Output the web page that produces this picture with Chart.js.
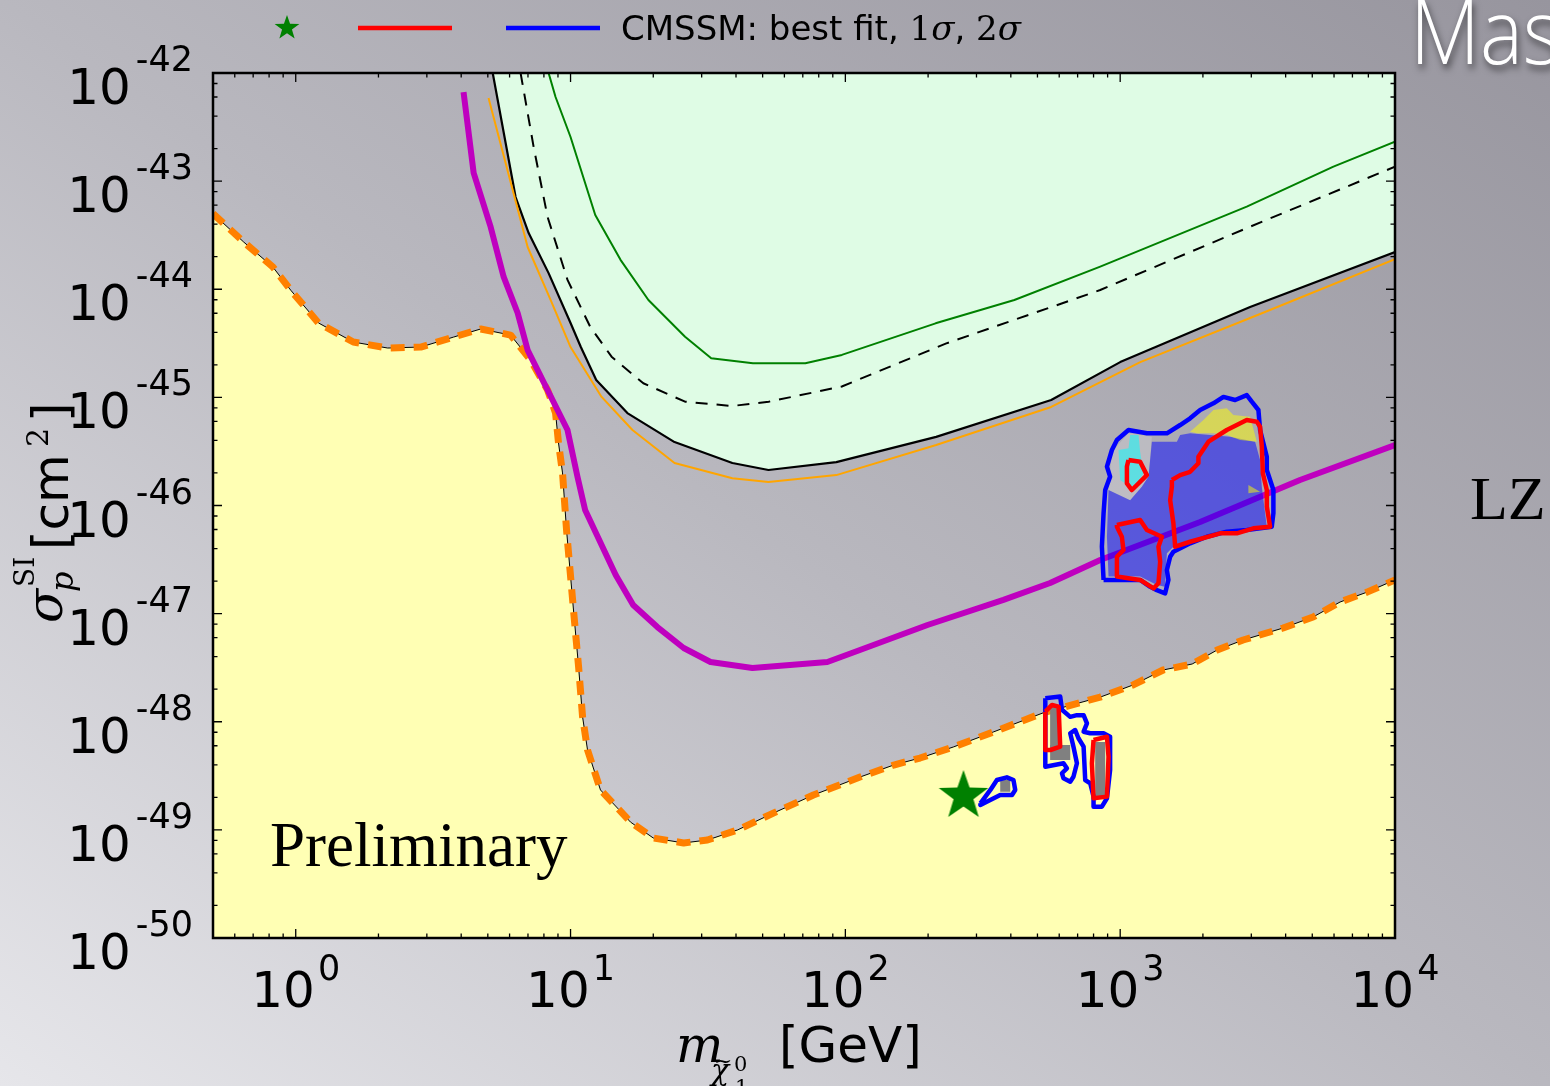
<!DOCTYPE html>
<html>
<head>
<meta charset="utf-8">
<script src="https://cdn.jsdelivr.net/npm/chart.js@4.4.0/dist/chart.umd.min.js"></script>
<style>
  html, body { margin: 0; padding: 0; }
  body {
    width: 1550px; height: 1086px; overflow: hidden;
    background: linear-gradient(to top right, #e6e6ea 0%, #b9b8bf 50%, #97959e 100%);
  }
  canvas { display: block; }
</style>
</head>
<body>
<canvas id="c" width="1550" height="1086"></canvas>
<script>
  // axes
  const xMin = 0.5, xMax = 1e4, yMin = 1e-50, yMax = 1e-42;
  const xTickExps = [0, 1, 2, 3, 4];
  const yTickExps = [-50, -49, -48, -47, -46, -45, -44, -43, -42];
  const xMinorSubs = [2, 3, 4, 5, 6, 7, 8, 9];
  const yMinorSubs = [2, 4, 6, 8];

  // neutrino floor (yellow region + orange dashed)
  const floorX = [0.5, 0.647, 0.825, 0.959, 1.21, 1.62, 2.16, 2.85, 3.75, 4.71, 6.05, 7.15, 8.25, 8.82, 9.04, 9.35, 9.67, 10.25, 10.7, 11.06, 11.53, 12.85, 14.82, 16.53, 20.0, 25.8, 31.5, 40.5, 54.7, 76.5, 113, 150, 187, 247, 345, 525, 846, 1115, 1433, 1828, 2254, 2801, 3917, 5036, 6310, 7910, 10000];
  const floorY = [5.0e-44, 2.73e-44, 1.61e-44, 9.8e-45, 4.88e-45, 3.25e-45, 2.86e-45, 2.92e-45, 3.61e-45, 4.29e-45, 3.77e-45, 2.22e-45, 1.17e-45, 7.16e-46, 3.79e-46, 2.0e-46, 5.93e-47, 1.08e-47, 3.2e-48, 1.11e-48, 5.48e-49, 2.34e-49, 1.59e-49, 1.18e-49, 8.41e-50, 7.57e-50, 8.06e-50, 9.98e-50, 1.43e-49, 2.10e-49, 3.08e-49, 3.98e-49, 4.62e-49, 5.84e-49, 8.03e-49, 1.21e-48, 1.69e-48, 2.19e-48, 3.01e-48, 3.42e-48, 4.61e-48, 5.70e-48, 7.36e-48, 9.31e-48, 1.28e-47, 1.58e-47, 2.05e-47];

  // excluded limit (black, green area above)
  const exclX = [5.21, 6.31, 7.04, 8.32, 10.0, 10.9, 12.4, 16.1, 23.9, 38.8, 52.5, 92.7, 214, 561, 1000, 2970, 10000];
  const exclY = [1e-42, 7.13e-44, 3.31e-44, 1.41e-44, 4.88e-45, 2.92e-45, 1.45e-45, 7.16e-46, 3.86e-46, 2.47e-46, 2.13e-46, 2.52e-46, 4.31e-46, 9.46e-46, 2.12e-45, 6.85e-45, 2.21e-44];

  // orange thin
  const orX = [5.03, 6.2, 6.98, 8.46, 10.0, 12.97, 16.8, 23.9, 38.8, 52.5, 92.7, 214, 561, 1183, 3228, 10000];
  const orY = [5.87e-43, 7.76e-44, 2.46e-44, 7.96e-45, 2.92e-45, 1.01e-45, 4.99e-46, 2.47e-46, 1.79e-46, 1.65e-46, 1.91e-46, 3.63e-46, 8.15e-46, 2.12e-45, 5.9e-45, 1.9e-44];

  // black dashed
  const dashX = [6.58, 7.34, 8.25, 9.75, 11.8, 14.1, 18.4, 26.1, 38.7, 52.6, 97.1, 233, 667, 846, 2970, 10000];
  const dashY = [1e-42, 2.07e-43, 4.66e-44, 1.22e-44, 4.48e-45, 2.38e-45, 1.35e-45, 9.12e-46, 8.32e-46, 9.12e-46, 1.26e-45, 3.16e-45, 7.96e-45, 9.84e-45, 3.79e-44, 1.36e-43];

  // green thin
  const grX = [8.32, 8.82, 10.0, 12.3, 15.2, 19.2, 26.1, 32.5, 46.1, 71.5, 97.1, 213, 412, 846, 2888, 5970, 10000];
  const grY = [1e-42, 6.0e-43, 2.56e-43, 4.86e-44, 1.87e-44, 7.96e-45, 3.64e-45, 2.3e-45, 2.07e-45, 2.07e-45, 2.47e-45, 4.84e-45, 7.96e-45, 1.62e-44, 5.81e-44, 1.36e-43, 2.32e-43];

  // LZ projection (magenta)
  const lzX = [4.08, 4.44, 5.12, 5.71, 6.42, 6.98, 9.75, 10.6, 11.3, 14.6, 16.9, 20.7, 25.8, 32.3, 45.9, 86.0, 113, 199, 376, 556, 846, 1954, 4512, 10000];
  const lzY = [6.67e-43, 1.19e-43, 3.77e-44, 1.30e-44, 6.03e-45, 2.74e-45, 4.99e-46, 1.84e-46, 9.08e-47, 2.28e-47, 1.2e-47, 7.51e-48, 4.81e-48, 3.57e-48, 3.14e-48, 3.57e-48, 4.61e-48, 7.85e-48, 1.34e-47, 1.92e-47, 3.13e-47, 7.03e-47, 1.72e-46, 3.63e-46];

  // CMSSM regions [mass, sigma]
  const big2s = [[870,2.05e-47],[858,4.16e-47],[870,8.47e-47],[882,1.39e-46],[919,1.85e-46],[895,2.29e-46],[933,3.26e-46],[973,4.04e-46],[1072,4.99e-46],[1251,4.65e-46],[1479,4.65e-46],[1653,5.55e-46],[1797,6.40e-46],[1954,7.64e-46],[2184,8.81e-46],[2375,1.01e-45],[2620,9.46e-46],[2888,1.05e-45],[3012,9.12e-46],[3184,7.64e-46],[3229,4.99e-46],[3416,2.82e-46],[3416,2.13e-46],[3610,1.39e-46],[3610,8.47e-47],[3561,6.37e-47],[2888,5.93e-47],[2443,5.73e-47],[2067,5.14e-47],[1797,4.47e-47],[1562,3.74e-47],[1520,3.36e-47],[1479,2.53e-47],[1498,2.05e-47],[1457,1.54e-47],[1360,1.65e-47],[1286,1.77e-47],[1182,2.05e-47],[973,2.05e-47]];
  const bigFill = [[907,1.39e-46],[1087,1.12e-46],[1199,1.49e-46],[1268,1.85e-46],[1304,3.89e-46],[1608,3.89e-46],[1653,4.49e-46],[1797,4.65e-46],[2512,4.33e-46],[3097,3.89e-46],[3229,2.64e-46],[3276,1.49e-46],[3416,6.37e-47],[2888,6.15e-47],[2067,5.33e-47],[1562,4.16e-47],[1479,3.61e-47],[1457,1.77e-47],[1360,1.84e-47],[1182,2.20e-47],[907,2.20e-47],[895,5.14e-47]];
  const bigLight = [[933,3.14e-46],[1072,4.65e-46],[1304,4.33e-46],[1268,1.85e-46],[1199,1.49e-46],[1087,1.12e-46],[907,1.39e-46],[919,1.99e-46]];
  const bigCyan = [[1087,4.49e-46],[1166,4.49e-46],[1182,3.14e-46],[1215,1.99e-46],[1150,1.60e-46],[1087,1.49e-46],[1000,1.72e-46],[986,3.26e-46],[1072,3.38e-46]];
  const bigYellow = [[1797,4.82e-46],[2009,6.18e-46],[2184,7.64e-46],[2443,7.92e-46],[2582,6.87e-46],[2970,6.63e-46],[3141,3.89e-46],[2732,4.04e-46],[2443,4.49e-46],[2184,4.65e-46],[1901,4.65e-46]];
  const smallYellow = [[2928,1.55e-46],[3229,1.34e-46],[2928,1.30e-46]];
  const red1a = [[1072,2.64e-46],[1182,2.54e-46],[1251,1.91e-46],[1199,1.72e-46],[1103,1.39e-46],[1058,1.60e-46],[1058,2.29e-46]];
  const red1b = [[1542,1.72e-46],[1653,1.91e-46],[1797,2.05e-46],[1926,2.46e-46],[1926,2.82e-46],[2095,3.89e-46],[2443,4.99e-46],[2888,6.18e-46],[3141,5.96e-46],[3229,5.36e-46],[3276,3.50e-46],[3304,1.99e-46],[3416,1.39e-46],[3416,9.75e-47],[3512,6.37e-47],[3052,6.15e-47],[2657,5.53e-47],[2310,5.53e-47],[1797,4.62e-47],[1585,4.16e-47],[1562,6.84e-47],[1520,1.12e-46],[1542,1.49e-46]];
  const red1c = [[973,6.6e-47],[1182,7.35e-47],[1251,5.93e-47],[1418,5.14e-47],[1378,4.16e-47],[1398,3.02e-47],[1378,1.91e-47],[1322,1.71e-47],[1182,2.05e-47],[973,2.20e-47],[973,3.36e-47],[1028,3.88e-47],[1014,5.14e-47],[973,6.37e-47]];

  const low2s = [[310,1.76e-49],[337,2.34e-49],[356,2.89e-49],[387,3.06e-49],[409,2.89e-49],[415,2.34e-49],[404,2.10e-49],[366,2.10e-49],[327,1.82e-49],[310,1.70e-49]];
  const lowFill = [[366,2.89e-49],[398,2.89e-49],[398,2.25e-49],[366,2.25e-49]];
  const mid2s = [[534,1.65e-48],[605,1.71e-48],[614,1.29e-48],[658,1.11e-48],[696,1.15e-48],[736,1.15e-48],[757,9.67e-49],[736,8.09e-49],[778,7.82e-49],[870,7.82e-49],[919,7.27e-49],[919,3.58e-49],[895,1.96e-49],[858,1.64e-49],[800,1.64e-49],[800,2.03e-49],[778,2.70e-49],[746,2.89e-49],[736,5.88e-49],[705,7.03e-49],[686,8.39e-49],[658,7.82e-49],[676,5.88e-49],[696,4.13e-49],[676,3.10e-49],[658,2.79e-49],[622,3.00e-49],[614,3.34e-49],[640,3.71e-49],[622,4.13e-49],[534,3.84e-49]];
  const midFillA = [[556,1.43e-48],[597,1.43e-48],[597,5.48e-49],[556,5.48e-49]];
  const midFillB = [[556,6.1e-49],[658,6.1e-49],[658,4.43e-49],[556,4.43e-49]];
  const midFillC = [[811,6.5e-49],[882,6.5e-49],[882,2.01e-49],[811,2.01e-49]];
  const red1d = [[534,1.24e-48],[565,1.43e-48],[597,1.38e-48],[605,5.88e-49],[557,5.48e-49],[534,5.48e-49]];
  const red1e = [[800,6.78e-49],[895,7.27e-49],[907,4.75e-49],[895,2.03e-49],[800,1.96e-49],[789,4.13e-49]];

  // best fit point
  const bestX = [269];
  const bestY = [2.06e-49];

  function xy(xs, ys) { return xs.map((x, i) => ({x: x, y: ys[i]})); }
  function poly(pairs) {
    const p = pairs.map(([x, y]) => ({x: x, y: y}));
    p.push({x: pairs[0][0], y: pairs[0][1]});
    return p;
  }

  function starPath(g, cx, cy, R) {
    const r = R * 0.4;
    g.beginPath();
    for (let i = 0; i < 10; i++) {
      const rad = i % 2 ? r : R;
      const ang = -Math.PI / 2 + i * Math.PI / 5;
      const px = cx + rad * Math.cos(ang), py = cy + rad * Math.sin(ang);
      if (i) g.lineTo(px, py); else g.moveTo(px, py);
    }
    g.closePath();
  }
  function makeStar(R, color) {
    const c = document.createElement('canvas');
    const s = Math.ceil(R * 2 + 4);
    c.width = s; c.height = s;
    const g = c.getContext('2d');
    starPath(g, s / 2, s / 2, R);
    g.fillStyle = color; g.fill();
    return c;
  }
  const bigStar = makeStar(26, '#008000');

  const line = (data, color, width, extra) => Object.assign({
    data: data, borderColor: color, borderWidth: width, fill: false,
    pointRadius: 0, tension: 0, borderCapStyle: 'butt', borderJoinStyle: 'round'
  }, extra || {});
  const shape = (pairs, color) => line(poly(pairs), 'rgba(0,0,0,0)', 0, {fill: 'shape', backgroundColor: color});

  // bottom -> top
  const layers = [
    line(xy(floorX, floorY), '#000', 1, {fill: 'start', backgroundColor: '#ffffb4'}),
    line(xy(exclX, exclY), '#000', 2.2, {fill: 'end', backgroundColor: '#dffce5'}),
    line(xy(orX, orY), '#ffa500', 2),
    line(xy(dashX, dashY), '#000', 2, {borderDash: [12, 9]}),
    line(xy(grX, grY), '#008000', 2),
    line(xy(floorX, floorY), '#ff8000', 7, {borderDash: [14, 9]}),
    line(xy(lzX, lzY), '#bf00bf', 6),
    shape(bigLight, 'rgba(255,255,255,0.18)'),
    shape(bigFill, 'rgba(0,0,255,0.5)'),
    shape(bigCyan, 'rgba(0,255,255,0.5)'),
    shape(bigYellow, 'rgba(255,255,0,0.5)'),
    shape(smallYellow, 'rgba(255,255,0,0.5)'),
    shape(lowFill, '#808080'),
    shape(midFillA, '#808080'),
    shape(midFillB, '#808080'),
    shape(midFillC, '#808080'),
    line(poly(big2s), '#0000ff', 4.5),
    line(poly(low2s), '#0000ff', 4.5),
    line(poly(mid2s), '#0000ff', 4.5),
    line(poly(red1a), '#ff0000', 4.5),
    line(poly(red1b), '#ff0000', 4.5),
    line(poly(red1c), '#ff0000', 4.5),
    line(poly(red1d), '#ff0000', 4.5),
    line(poly(red1e), '#ff0000', 4.5),
    {data: xy(bestX, bestY), showLine: false, pointStyle: bigStar, pointRadius: 5}
  ];
  layers.forEach((d, i) => { d.order = layers.length - i; });

  const SANS = '"DejaVu Sans", sans-serif';
  const SERIF = '"DejaVu Serif", serif';
  const TIMES = '"Liberation Serif", "Times New Roman", serif';

  function put(ctx, t, font, x, y, color) {
    ctx.font = font;
    ctx.fillStyle = color || '#000';
    ctx.fillText(t, x, y);
    return ctx.measureText(t).width;
  }

  const decor = {
    id: 'decor',
    afterDraw(chart) {
      const ctx = chart.ctx, a = chart.chartArea;
      const sx = chart.scales.x, sy = chart.scales.y;
      ctx.save();
      ctx.textBaseline = 'alphabetic';
      ctx.textAlign = 'left';

      // inward ticks on all sides
      ctx.strokeStyle = '#000';
      ctx.lineWidth = 1.3;
      ctx.beginPath();
      for (let e = -1; e <= 4; e++) {
        [1].concat(xMinorSubs).forEach(m => {
          const v = m * Math.pow(10, e);
          if (v < xMin * 0.999 || v > xMax * 1.001) return;
          const px = sx.getPixelForValue(v);
          const len = m === 1 ? 9 : 4.5;
          ctx.moveTo(px, a.bottom); ctx.lineTo(px, a.bottom - len);
          ctx.moveTo(px, a.top); ctx.lineTo(px, a.top + len);
        });
      }
      for (let e = -50; e <= -42; e++) {
        [1].concat(yMinorSubs).forEach(m => {
          const v = m * Math.pow(10, e);
          if (v < yMin * 0.999 || v > yMax * 1.001) return;
          const py = sy.getPixelForValue(v);
          const len = m === 1 ? 9 : 4.5;
          ctx.moveTo(a.left, py); ctx.lineTo(a.left + len, py);
          ctx.moveTo(a.right, py); ctx.lineTo(a.right - len, py);
        });
      }
      ctx.stroke();

      ctx.lineWidth = 2.5;
      ctx.strokeRect(a.left, a.top, a.right - a.left, a.bottom - a.top);

      // tick labels 10^n
      const baseFont = '50px ' + SANS, supFont = '35px ' + SANS;
      yTickExps.forEach(e => {
        const py = sy.getPixelForValue(Math.pow(10, e));
        ctx.font = supFont; const ws = ctx.measureText(String(e)).width;
        ctx.font = baseFont; const wb = ctx.measureText('10').width;
        const right = a.left - 20;
        put(ctx, '10', baseFont, right - ws - wb - 5, py + 31);
        put(ctx, String(e), supFont, right - ws, py - 2);
      });
      xTickExps.forEach(e => {
        const px = sx.getPixelForValue(Math.pow(10, e));
        ctx.font = supFont; const ws = ctx.measureText(String(e)).width;
        ctx.font = baseFont; const wb = ctx.measureText('10').width;
        const left = px - (wb + ws + 3) / 2;
        put(ctx, '10', baseFont, left, a.bottom + 69);
        put(ctx, String(e), supFont, left + wb + 3, a.bottom + 42);
      });

      // x axis title
      put(ctx, 'm', 'italic 50px ' + SERIF, 676, 1062);
      put(ctx, 'χ', 'italic 30px ' + SERIF, 711, 1080);
      put(ctx, '~', '22px ' + SERIF, 714, 1068);
      put(ctx, '0', '21px ' + SERIF, 734, 1071);
      put(ctx, '1', '21px ' + SERIF, 735, 1094);
      put(ctx, '[GeV]', '50px ' + SANS, 779, 1062);

      // y axis title (rotated)
      ctx.save();
      ctx.translate(68, 623);
      ctx.rotate(-Math.PI / 2);
      put(ctx, 'σ', 'italic 50px ' + SERIF, 0, -6);
      put(ctx, 'p', 'italic 32px ' + SERIF, 31, 5);
      put(ctx, 'SI', '28px ' + SERIF, 36, -34);
      put(ctx, '[cm', '50px ' + SANS, 73, 0);
      put(ctx, '2', '30px ' + SERIF, 176, -20);
      put(ctx, ']', '50px ' + SANS, 201, 0);
      ctx.restore();

      // legend
      ctx.drawImage(makeStar(13, '#008000'), 287 - 15, 28 - 15);
      ctx.lineWidth = 4.5;
      ctx.lineCap = 'butt';
      ctx.strokeStyle = '#ff0000';
      ctx.beginPath(); ctx.moveTo(358, 28); ctx.lineTo(452, 28); ctx.stroke();
      ctx.strokeStyle = '#0000ff';
      ctx.beginPath(); ctx.moveTo(506, 28); ctx.lineTo(600, 28); ctx.stroke();
      let lx = 621;
      lx += put(ctx, 'CMSSM: best fit, ', '34px ' + SANS, lx, 40);
      lx += put(ctx, '1', '34px ' + SERIF, lx, 40);
      lx += put(ctx, 'σ', 'italic 34px ' + SERIF, lx, 40);
      lx += put(ctx, ', ', '34px ' + SANS, lx, 40);
      lx += put(ctx, '2', '34px ' + SERIF, lx, 40);
      put(ctx, 'σ', 'italic 34px ' + SERIF, lx, 40);

      // annotations
      put(ctx, 'Preliminary', '63px ' + TIMES, 270, 866);
      put(ctx, 'LZ', '62px ' + TIMES, 1470, 519);

      // slide title fragment
      ctx.save();
      ctx.shadowColor = 'rgba(0,0,0,0.55)';
      ctx.shadowBlur = 7;
      ctx.shadowOffsetX = 2;
      ctx.shadowOffsetY = 5;
      ctx.translate(1410, 64);
      ctx.scale(0.9, 1);
      put(ctx, 'Mas', '300 90px "Open Sans", Lato, sans-serif', 0, 0, '#ffffff');
      ctx.restore();

      ctx.restore();
    }
  };

  new Chart(document.getElementById('c'), {
    type: 'line',
    data: { datasets: layers },
    options: {
      responsive: false,
      animation: false,
      events: [],
      layout: { padding: { left: 213, top: 73, right: 155, bottom: 148 } },
      plugins: { legend: { display: false }, tooltip: { enabled: false } },
      scales: {
        x: { type: 'logarithmic', min: xMin, max: xMax, display: false },
        y: { type: 'logarithmic', min: yMin, max: yMax, display: false }
      }
    },
    plugins: [decor]
  });
</script>
</body>
</html>
